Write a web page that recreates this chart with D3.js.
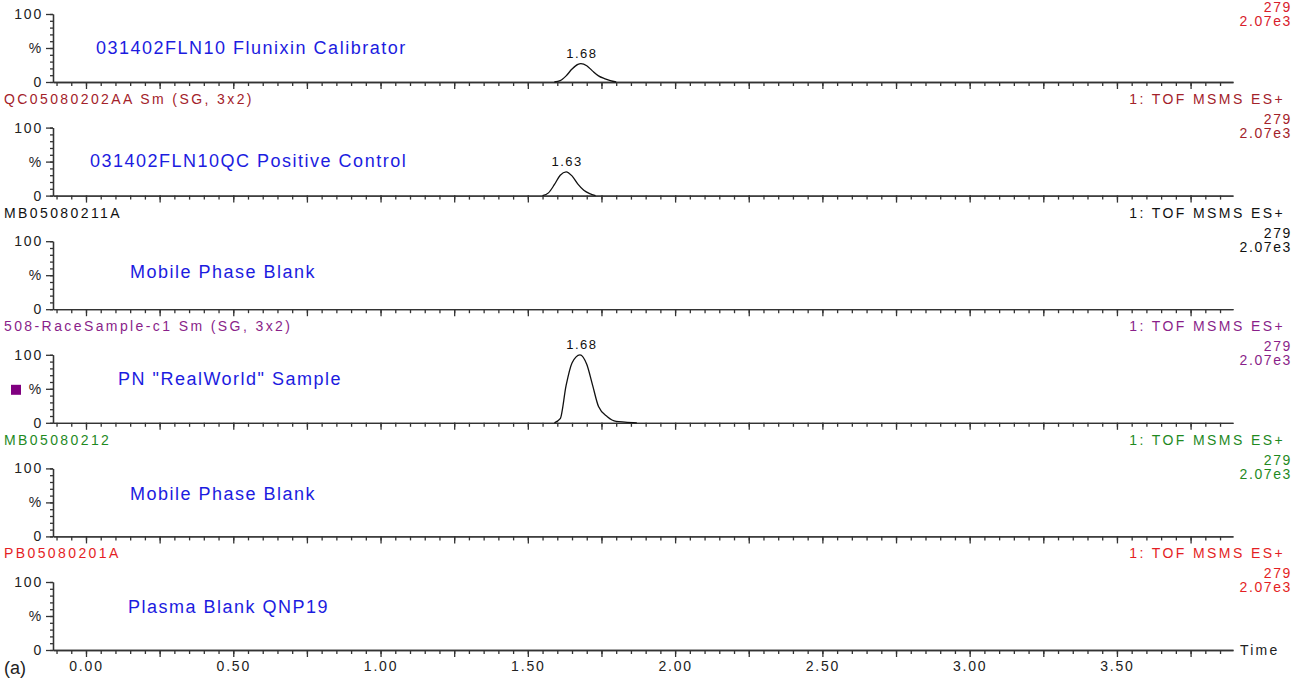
<!DOCTYPE html>
<html>
<head>
<meta charset="utf-8">
<script src="https://cdn.jsdelivr.net/npm/d3@7"></script>
<style>
  body { margin: 0; background: #fff; }
  text { font-family: "Liberation Sans", Arial, sans-serif; }
</style>
</head>
<body>
<div class="main"></div>
<script>
// chart data
let runNames = ['', 'QC05080202AA Sm (SG, 3x2)', 'MB05080211A', '508-RaceSample-c1 Sm (SG, 3x2)', 'MB05080212', 'PB05080201A'];
let sampleNames = ['031402FLN10 Flunixin Calibrator', '031402FLN10QC Positive Control', 'Mobile Phase Blank', 'PN "RealWorld" Sample', 'Mobile Phase Blank', 'Plasma Blank QNP19'];
let channel = '1: TOF MSMS ES+';
let massLabel = '279';
let intensityLabel = '2.07e3';
let peakLabels = [1.68, 1.63, null, 1.68, null, null];

let traceTimes = [
  [1.59, 1.61, 1.63, 1.65, 1.67, 1.68, 1.70, 1.72, 1.74, 1.76, 1.78, 1.80],
  [1.55, 1.57, 1.59, 1.61, 1.63, 1.65, 1.67, 1.69, 1.71, 1.73],
  [],
  [1.59, 1.61, 1.63, 1.65, 1.677, 1.70, 1.72, 1.74, 1.77, 1.80, 1.83, 1.87],
  [],
  []
];
let traceValues = [
  [0, 2, 9, 19, 26, 27, 24, 16, 9, 5, 2, 0],
  [0, 4, 16, 30, 35, 29, 17, 8, 3, 0],
  [],
  [0, 6, 55, 88, 100, 86, 55, 24, 9, 2, 1, 0],
  [],
  []
];
let timeTicks = [0, 0.5, 1, 1.5, 2, 2.5, 3, 3.5];

// layout
let opts = {
  width: 1292,
  height: 685,
  left: 53,
  right: 1233,
  firstBase: 82,
  step: 113.6,
  plotH: 68
};
let panelColors = ['#d8202c', '#a3222a', '#111111', '#8a1f8a', '#1f8a1f', '#e41e24'];
let sampleOffsets = [[96, -34], [90, -35], [130, -37], [118, -44], [130, -42], [128, -43]];

let svg = d3.select('.main').append('svg')
  .attr('width', opts.width)
  .attr('height', opts.height);

let x = d3.scaleLinear().domain([-0.112, 3.894]).range([opts.left, opts.right]);
let y = d3.scaleLinear().domain([0, 100]).range([opts.plotH, 0]);

let minorX = d3.range(-0.1, 3.9, 0.05).map(v => +v.toFixed(2));
let majorX = d3.range(0, 3.9, 0.25);

let line = d3.line()
  .x(d => x(d.t))
  .y(d => y(d.v))
  .curve(d3.curveMonotoneX);

runNames.forEach((name, i) => {
  let base = opts.firstBase + i * opts.step;
  let prev = base - opts.step;
  let color = panelColors[i];
  // top run: its header is cropped by the page edge, keep mass / intensity in view
  let massY = Math.max(prev + 42, 12);

  // header row
  let head = svg.append('g').attr('fill', color).style('font-size', '14px').style('letter-spacing', '2.4px');
  head.append('text').attr('x', 4).attr('y', prev + 22).text(name);
  head.append('text').attr('x', 1285).attr('y', prev + 22).attr('text-anchor', 'end').text(channel);
  head.append('text').attr('x', 1292).attr('y', massY).attr('text-anchor', 'end').style('letter-spacing', '1.6px').text(massLabel);
  head.append('text').attr('x', 1292).attr('y', massY + 14).attr('text-anchor', 'end').style('letter-spacing', '1.6px').text(intensityLabel);

  let g = svg.append('g').attr('transform', `translate(0,${base - opts.plotH})`);

  // x axis
  g.append('g').attr('transform', `translate(0,${opts.plotH})`)
    .call(d3.axisBottom(x).tickValues(minorX).tickSize(4).tickSizeOuter(0).tickFormat(''));
  g.append('g').attr('transform', `translate(0,${opts.plotH})`)
    .call(d3.axisBottom(x).tickValues(majorX).tickSize(7).tickSizeOuter(0).tickFormat(''));

  // y axis
  g.append('g').attr('transform', `translate(${opts.left},0)`)
    .call(d3.axisLeft(y).tickValues(d3.range(0, 101, 10)).tickSize(3).tickSizeOuter(0).tickFormat(''));
  g.append('g').attr('transform', `translate(${opts.left},0)`)
    .call(d3.axisLeft(y).tickValues([0, 50, 100]).tickSize(7).tickSizeOuter(0)
      .tickFormat(d => d === 50 ? '%' : d));

  g.selectAll('.domain, .tick line').attr('stroke', '#333').attr('stroke-width', 1.3);
  g.selectAll('.tick text').attr('fill', '#222').style('font-size', '14px')
    .style('font-family', '"Liberation Sans", Arial, sans-serif').style('letter-spacing', '1.8px');

  // trace
  let pts = traceTimes[i].map((t, k) => ({ t: t, v: traceValues[i][k] }));
  if (pts.length) {
    g.append('path').datum(pts)
      .attr('d', line)
      .attr('fill', 'none')
      .attr('stroke', '#111')
      .attr('stroke-width', 1.3);
    let top = d3.max(pts, d => d.v);
    g.append('text')
      .attr('x', x(peakLabels[i]) + 1)
      .attr('y', y(top) - 6)
      .attr('text-anchor', 'middle')
      .style('font-size', '13px')
      .style('letter-spacing', '1.5px')
      .attr('fill', '#111')
      .text(peakLabels[i].toFixed(2));
  }

  // sample name
  g.append('text')
    .attr('x', sampleOffsets[i][0])
    .attr('y', opts.plotH + sampleOffsets[i][1] + 6)
    .attr('fill', '#1c1ce0')
    .style('font-size', '18px')
    .style('letter-spacing', '1.5px')
    .text(sampleNames[i]);

  if (i === 3) {
    g.append('rect').attr('x', 11).attr('y', opts.plotH - 38).attr('width', 10).attr('height', 10).attr('fill', '#800080');
  }

  if (i === runNames.length - 1) {
    g.append('g').attr('transform', `translate(0,${opts.plotH})`)
      .call(d3.axisBottom(x).tickValues(timeTicks).tickSize(0).tickPadding(11).tickFormat(d3.format('.2f')))
      .call(a => a.select('.domain').remove())
      .selectAll('text').attr('fill', '#222').style('font-size', '14px')
      .style('font-family', '"Liberation Sans", Arial, sans-serif').style('letter-spacing', '1.8px');
    g.append('text').attr('x', 1240).attr('y', opts.plotH + 5).style('font-size', '14px')
      .style('letter-spacing', '2.2px').attr('fill', '#222').text('Time');
    g.append('text').attr('x', 4).attr('y', opts.plotH + 24).style('font-size', '18px')
      .attr('fill', '#222').text('(a)');
  }
});
</script>
</body>
</html>
